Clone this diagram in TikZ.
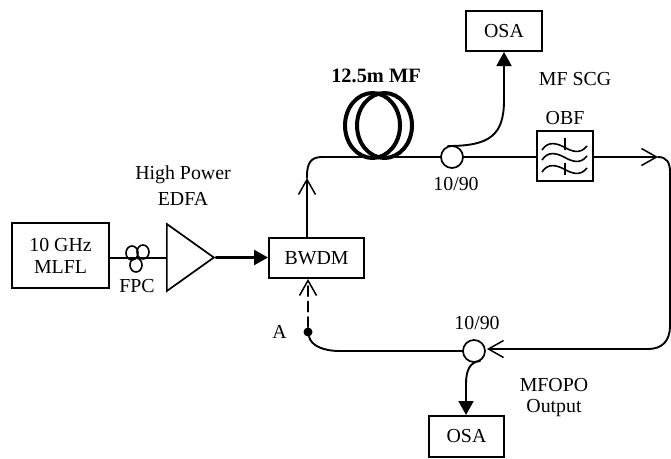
\documentclass[tikz,border=0pt]{standalone}
\usepackage{fontspec}
\setmainfont{Liberation Serif}
\usetikzlibrary{arrows.meta,positioning,shapes.geometric}

\begin{document}
\begin{tikzpicture}[x=0.2mm,y=-0.2mm]
\tikzset{
  devbox/.style={rectangle,draw=black,line width=0.4mm,inner sep=0pt,font=\fontsize{11.3}{13}\selectfont,align=center},
  label/.style={inner sep=0pt,font=\fontsize{11.3}{13}\selectfont,align=center},
  coupler/.style={circle,draw=black,line width=0.34mm,minimum size=4.4mm,inner sep=0pt},
  coil/.style={ellipse,draw=black,line width=0.8mm,minimum width=11mm,minimum height=13mm,inner sep=0pt},
  fpcloop/.style={ellipse,draw=black,line width=0.32mm,minimum width=2.4mm,minimum height=2.8mm,inner sep=0pt},
  fiber/.style={draw=black,line width=0.38mm,line cap=round},
  solidtip/.style={fiber,-{Stealth[length=2.8mm,width=3mm,inset=0pt]}},
  opentip/.style={fiber,-{Straight Barb[length=3mm,width=3.4mm,line width=0.3mm]}},
  wave/.style={draw=black,line width=0.32mm}
}
\useasboundingbox (0,0) rectangle (671,458);
\node[fpcloop] (n_fpc1) at (132,253) {};
\node[fpcloop] (n_fpc2) at (143,252) {};
\node[fpcloop] (n_fpc3) at (136,265) {};
\node[devbox,minimum width=19.4mm,minimum height=13mm] (n_laser) at (60.5,255.5) {10 GHz\\[-0.2mm]MLFL};
\node[isosceles triangle,isosceles triangle stretches,shape border rotate=0,draw=black,line width=0.34mm,inner sep=0pt,minimum height=9.4mm,minimum width=13.4mm,anchor=lower side] (n_edfa) at (166,257.5) {};
\node[devbox,minimum width=19mm,minimum height=8mm] (n_bwdm) at (316.5,258) {BWDM};
\node[devbox,minimum width=15.2mm,minimum height=8mm] (n_osa1) at (504,31) {OSA};
\node[devbox,minimum width=15mm,minimum height=8.2mm] (n_osa2) at (466.5,436.5) {OSA};
\node[rectangle,draw=black,line width=0.34mm,minimum width=11.2mm,minimum height=10mm,inner sep=0pt] (n_obf) at (565,156) {};
\node[coupler] (n_c1) at (452,157) {};
\node[coupler] (n_c2) at (474,351) {};
\node[coil] (n_coil1) at (372.5,125.5) {};
\node[coil] (n_coil2) at (384.5,125.5) {};
\node[circle,fill=black,minimum size=1.8mm,inner sep=0pt] (n_A) at (308,332) {};
\node[label] (l_edfa) at (183,185.5) {High Power\\[0.6mm]EDFA};
\node[label] (l_fpc) at (137,286) {FPC};
\node[label,font=\fontsize{11.6}{13}\selectfont\bfseries] (l_coil) at (376,76) {12.5m MF};
\node[label] (l_c1) at (456,184) {10/90};
\node[label] (l_c2) at (477,323) {10/90};
\node[label] (l_scg) at (575,79) {MF SCG};
\node[label] (l_obf) at (565,118) {OBF};
\node[label] (l_out) at (554,397.5) {MFOPO\\[-0.2mm]Output};
\node[label,left=3.2mm of n_A] (l_A) {A};
\coordinate (p_up) at (307,178);
\coordinate (p_right) at (658,157);
\coordinate (p_turn) at (648,349);
\coordinate (p_back) at (487,349);
\draw[fiber] (n_laser.east |- 0,258) -- (n_edfa.lower side |- 0,258);
\draw[solidtip,line width=0.5mm] (n_edfa.apex) -- (n_bwdm.west |- n_edfa.apex);
\draw[opentip] (n_bwdm.north -| p_up) -- (p_up);
\draw[fiber] (p_up) -- (307,176) .. controls (307,163) and (311,157) .. (322,157) -- (n_c1);
\draw[fiber] (n_c1) -- (n_obf.west |- n_c1);
\draw[opentip] (n_obf.east |- p_right) -- (p_right);
\draw[fiber] (p_right) .. controls (667,157) and (670,163) .. (670,172) -- (670,326) .. controls (670,341) and (662,349) .. (p_turn);
\draw[opentip] (p_turn) -- (p_back);
\draw[fiber] (n_c2) -- (340,351) .. controls (322,351) and (311,345) .. (n_A);
\draw[opentip,dash pattern=on 2mm off 1.1mm] (n_A) -- (n_bwdm.south -| n_A);
\draw[solidtip] (448,146) .. controls (490,146) and (504,135) .. (504,100) -- (n_osa1.south -| 504,0);
\draw[solidtip] (480,361) .. controls (470,362) and (466,370) .. (466,384) -- (n_osa2.north -| 466,0);
% filter inside
\foreach \yc in {148,158,170}
  \draw[wave,shift={(565,\yc)}] (-23,2) .. controls (-17,-7) and (-9,-5) .. (-1,-1) .. controls (6,3) and (15,7) .. (22,-2);
\draw[wave] (565,138) -- (565,150);
\draw[wave] (565,163) -- (565,175);
\end{tikzpicture}
\end{document}
